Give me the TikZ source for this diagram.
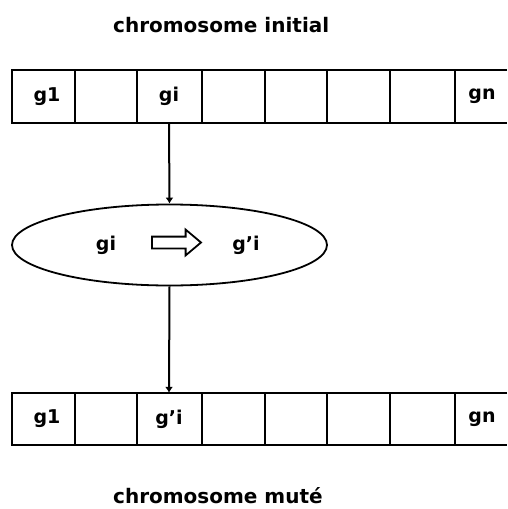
\documentclass[tikz,border=0pt]{standalone}
\usepackage{fontspec}
\setmainfont{DejaVu Sans}
\usetikzlibrary{arrows.meta,shapes.geometric,shapes.arrows}
\begin{document}
\begin{tikzpicture}[x=1pt,y=-1pt,
  rowline/.style={line width=2.6pt},
  divider/.style={line width=2.2pt},
  cell/.style={rectangle,inner sep=0pt,font=\bfseries\fontsize{19}{19}\selectfont},
  caption/.style={font=\bfseries\fontsize{20}{20}\selectfont,inner sep=0pt,anchor=base west},
  link/.style={line width=2pt,-{Latex[length=6pt,width=8pt]}},
  gene/.style={font=\bfseries\fontsize{19}{19}\selectfont,inner sep=0pt}]
\useasboundingbox (0,0) rectangle (507,509);

% titles
\node[caption] (titletop) at (113,32) {chromosome initial};
\node[caption] (titlebot) at (113,503) {chromosome muté};

% initial chromosome: open-ended row of cells
\draw[rowline] (507,70) -- (12,70) -- (12,123) -- (507,123);
\foreach \x in {75,137,202,265,327,390,455}
  \draw[divider] (\x,70) -- (\x,123);
\node[cell,minimum width=63pt,minimum height=53pt] (a1) at (47,96.5) {\raisebox{-3pt}{g1}};
\node[cell,minimum width=65pt,minimum height=53pt] (ai) at (169,96.5) {\raisebox{-3pt}{gi}};
\node[cell,minimum width=52pt,minimum height=53pt] (an) at (482,96.5) {\raisebox{-1pt}{gn}};

% mutated chromosome
\draw[rowline] (507,393) -- (12,393) -- (12,445) -- (507,445);
\foreach \x in {75,137,202,265,327,390,455}
  \draw[divider] (\x,393) -- (\x,445);
\node[cell,minimum width=63pt,minimum height=52pt] (b1) at (47,419) {\raisebox{-2pt}{g1}};
\node[cell,minimum width=65pt,minimum height=52pt] (bi) at (169,419) {\raisebox{-2pt}{g'i}};
\node[cell,minimum width=52pt,minimum height=52pt] (bn) at (482,419) {\raisebox{-1pt}{gn}};

% mutation operator
\node[ellipse,draw,line width=1.8pt,minimum width=315pt,minimum height=81pt,inner sep=0pt] (mut) at (169.5,245) {};
\node[gene] (gfrom) at (106,245) {gi};
\node[single arrow,draw,line width=1.8pt,minimum height=49pt,
      single arrow head extend=7pt,single arrow tip angle=80,
      inner xsep=0pt,inner ysep=5pt] (op) at (173,242.5) {};
\node[gene] (gto) at (246,245) {g'i};

% connectors
\draw[link] (ai.south) -- (mut.north);
\draw[link] (mut.south) -- (bi.north);
\end{tikzpicture}
\end{document}
